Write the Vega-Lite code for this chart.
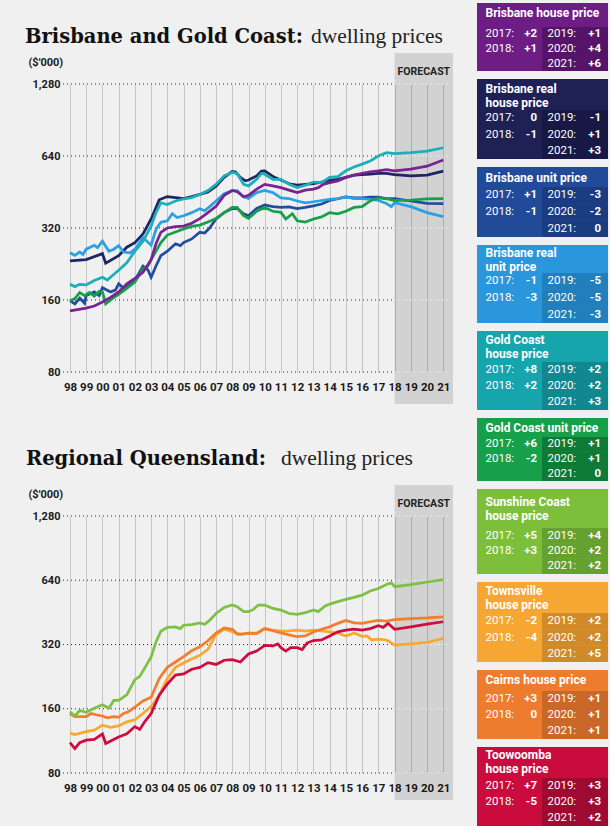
{
"$schema": "https://vega.github.io/schema/vega-lite/v6.json",
"background": "#f0f0f0",
"padding": {"left": 25, "top": 3, "right": 2, "bottom": 0},
"config": {
  "view": {"stroke": null},
  "axis": {"labelFont": "Roboto", "labelFontWeight": "bold", "labelColor": "#1a1a1a", "labelFontSize": 11, "domain": false, "ticks": false},
  "text": {"font": "Roboto", "fontSize": 11.5, "color": "#ffffff", "baseline": "middle"}
},
"datasets": {
  "gridValues": [{"v": 80}, {"v": 160}, {"v": 320}, {"v": 640}, {"v": 1280}],
  "forecast": [{"start": 2018, "end": 2021.6, "label": "FORECAST"}],
  "headings": [
    {"chart": "Brisbane and Gold Coast", "heading": "Brisbane and Gold Coast:", "subheading": "dwelling prices"},
    {"chart": "Regional Queensland", "heading": "Regional Queensland:", "subheading": "dwelling prices"}
  ],
  "brisbane": [
    {"series": "Brisbane real house price",
     "t": [1998,1999,2000,2000.2,2001,2001.5,2002,2002.5,2003,2003.5,2004,2004.5,2005,2005.5,2006,2006.5,2007,2007.5,2008,2008.2,2008.5,2008.8,2009,2009.5,2009.8,2010,2010.3,2010.6,2011,2011.5,2012,2012.5,2013,2013.5,2014,2014.5,2015,2015.5,2016,2016.5,2017,2017.5,2018,2019,2020,2021],
     "v": [233,236,250,228,245,266,278,302,349,420,433,429,425,433,442,453,479,521,551,548,521,504,508,528,553,555,537,521,508,490,484,487,490,498,506,511,521,532,535,537,541,541,535,528,532,553]},
    {"series": "Brisbane unit price",
     "t": [1998,1998.3,1998.6,1998.9,1999,1999.5,1999.8,2000,2000.5,2000.8,2001,2001.3,2001.6,2002,2002.5,2002.8,2003,2003.3,2003.6,2004,2004.5,2004.8,2005,2005.5,2006,2006.3,2006.6,2007,2007.5,2008,2008.3,2008.7,2009,2009.5,2010,2010.5,2011,2011.5,2012,2012.5,2013,2013.5,2014,2014.5,2015,2015.5,2016,2016.5,2017,2017.5,2018,2019,2020,2021],
     "v": [159,154,163,155,167,173,167,180,173,176,187,179,184,193,222,214,199,222,245,256,275,270,278,288,307,305,320,349,371,386,386,367,360,386,400,393,390,392,386,390,396,403,417,424,432,428,428,431,431,425,425,415,406,405]},
    {"series": "Brisbane real unit price",
     "t": [1998,1998.3,1998.6,1998.8,1999,1999.5,1999.7,2000,2000.4,2000.7,2001,2001.3,2001.7,2002,2002.5,2003,2003.3,2003.6,2004,2004.3,2004.6,2005,2005.5,2006,2006.3,2006.7,2007,2007.5,2008,2008.3,2008.7,2009,2009.5,2010,2010.5,2011,2011.5,2012,2012.5,2013,2013.5,2014,2014.5,2015,2015.5,2016,2016.5,2017,2017.5,2017.8,2018,2019,2020,2021],
     "v": [252,246,254,248,261,271,265,282,256,261,270,254,252,261,292,271,316,338,343,367,354,360,371,385,378,398,415,445,459,459,432,425,450,459,450,428,425,415,408,412,417,422,425,432,425,425,422,417,405,393,408,393,371,357]},
    {"series": "Gold Coast unit price",
     "t": [1998,1998.3,1998.6,1998.9,1999.2,1999.5,1999.8,2000,2000.2,2000.6,2001,2001.5,2002,2002.5,2002.8,2003,2003.3,2003.6,2004,2004.5,2005,2005.5,2006,2006.5,2007,2007.5,2008,2008.3,2008.7,2009,2009.5,2010,2010.5,2011,2011.3,2011.7,2012,2012.5,2013,2013.5,2014,2014.5,2015,2015.5,2016,2016.5,2017,2017.5,2018,2019,2020,2021],
     "v": [159,162,172,167,172,166,174,173,154,162,169,179,190,216,222,236,256,278,299,308,317,325,329,339,351,371,390,390,360,351,376,390,376,372,349,367,343,339,349,356,371,367,376,390,393,415,428,424,417,419,424,425]},
    {"series": "Brisbane house price",
     "t": [1998,1999,1999.5,2000,2000.5,2001,2001.5,2002,2002.5,2003,2003.3,2003.6,2004,2004.5,2005,2005.5,2006,2006.5,2007,2007.5,2008,2008.3,2008.7,2009,2009.5,2010,2010.5,2011,2011.5,2012,2012.5,2013,2013.3,2013.6,2014,2014.5,2015,2015.5,2016,2016.5,2017,2017.5,2018,2019,2020,2021],
     "v": [144,148,151,157,164,173,187,197,209,236,275,307,320,324,326,335,350,371,394,438,459,454,432,438,465,487,480,472,461,450,461,465,472,487,495,504,521,532,541,550,555,561,555,564,580,616]},
    {"series": "Gold Coast house price",
     "t": [1998,1998.3,1998.6,1999,1999.5,2000,2000.3,2000.6,2001,2001.5,2002,2002.5,2003,2003.3,2003.6,2004,2004.5,2005,2005.5,2006,2006.5,2007,2007.5,2008,2008.3,2008.7,2009,2009.5,2009.8,2010,2010.5,2011,2011.5,2012,2012.5,2013,2013.5,2014,2014.5,2015,2015.5,2016,2016.5,2017,2017.5,2018,2019,2020,2021],
     "v": [186,182,186,185,193,199,194,202,213,229,256,282,326,371,408,401,415,423,429,442,459,487,528,546,541,487,480,511,541,537,511,511,487,472,483,498,495,521,525,555,576,592,610,640,661,655,661,671,693]}
  ],
  "regional": [
    {"series": "Townsville house price",
     "t": [1998,1998.3,1999,1999.5,2000,2000.5,2001,2001.5,2002,2002.5,2003,2003.5,2004,2004.5,2005,2005.5,2006,2006.5,2007,2007.5,2008,2008.5,2009,2009.5,2010,2010.5,2011,2011.5,2012,2012.5,2013,2013.5,2014,2014.5,2015,2015.5,2016,2016.3,2016.6,2017,2017.5,2017.7,2018,2019,2020,2021],
     "v": [123,121,125,127,134,131,133,139,142,152,164,185,222,250,262,274,285,304,357,377,367,357,362,362,380,374,370,371,374,370,374,371,367,362,351,362,349,351,336,339,336,329,318,322,327,342]},
    {"series": "Toowoomba house price",
     "t": [1998,1998.3,1998.6,1999,1999.5,2000,2000.2,2000.6,2001,2001.5,2002,2002.3,2002.6,2003,2003.5,2004,2004.5,2005,2005.5,2006,2006.5,2007,2007.5,2008,2008.5,2009,2009.5,2010,2010.5,2010.8,2011,2011.3,2011.6,2012,2012.3,2012.6,2013,2013.5,2014,2014.5,2015,2015.5,2016,2016.5,2017,2017.3,2017.6,2018,2019,2020,2021],
     "v": [111,104,111,114,115,122,110,114,118,122,132,128,139,152,185,209,230,233,245,250,263,258,270,272,265,289,298,317,315,322,309,298,309,309,303,325,334,336,351,367,374,378,374,380,392,385,402,377,387,399,409]},
    {"series": "Cairns house price",
     "t": [1998,1998.3,1999,1999.3,1999.6,2000,2000.3,2000.7,2001,2001.3,2001.6,2002,2002.5,2003,2003.5,2004,2004.5,2005,2005.5,2006,2006.5,2007,2007.5,2008,2008.3,2008.6,2009,2009.5,2010,2010.5,2011,2011.5,2012,2012.5,2013,2013.5,2014,2014.5,2015,2015.5,2016,2016.5,2017,2017.5,2018,2019,2020,2021],
     "v": [152,147,147,152,150,148,145,147,146,152,155,163,174,181,222,250,265,281,299,312,333,362,383,377,358,358,362,360,380,371,363,355,348,351,366,377,387,402,415,404,402,409,415,412,418,423,426,431]},
    {"series": "Sunshine Coast house price",
     "t": [1998,1998.3,1998.6,1999,1999.5,2000,2000.4,2000.7,2001,2001.5,2002,2002.3,2002.6,2003,2003.3,2003.6,2004,2004.5,2004.8,2005,2005.5,2006,2006.3,2006.6,2007,2007.5,2008,2008.3,2008.7,2009,2009.3,2009.6,2010,2010.5,2011,2011.5,2012,2012.5,2013,2013.3,2013.7,2014,2014.5,2015,2015.5,2016,2016.5,2017,2017.5,2017.8,2018,2019,2020,2021],
     "v": [155,148,157,154,161,167,161,175,175,186,219,227,248,280,329,369,385,387,380,394,397,404,398,415,447,477,490,481,456,456,467,490,490,472,464,447,443,451,464,456,484,495,508,521,532,545,570,585,611,622,597,611,628,645]}
  ],
  "boxes": [
    {"box": "Brisbane house price", "title": "Brisbane house price", "ly": "2017:", "lv": "+2", "ry": "2019:", "rv": "+1"},
    {"box": "Brisbane house price", "ly": "2018:", "lv": "+1", "ry": "2020:", "rv": "+4"},
    {"box": "Brisbane house price", "ly": "", "lv": "", "ry": "2021:", "rv": "+6"},
    {"box": "Brisbane real house price", "title": "Brisbane real\nhouse price", "ly": "2017:", "lv": "0", "ry": "2019:", "rv": "-1"},
    {"box": "Brisbane real house price", "ly": "2018:", "lv": "-1", "ry": "2020:", "rv": "+1"},
    {"box": "Brisbane real house price", "ly": "", "lv": "", "ry": "2021:", "rv": "+3"},
    {"box": "Brisbane unit price", "title": "Brisbane unit price", "ly": "2017:", "lv": "+1", "ry": "2019:", "rv": "-3"},
    {"box": "Brisbane unit price", "ly": "2018:", "lv": "-1", "ry": "2020:", "rv": "-2"},
    {"box": "Brisbane unit price", "ly": "", "lv": "", "ry": "2021:", "rv": "0"},
    {"box": "Brisbane real unit price", "title": "Brisbane real\nunit price", "ly": "2017:", "lv": "-1", "ry": "2019:", "rv": "-5"},
    {"box": "Brisbane real unit price", "ly": "2018:", "lv": "-3", "ry": "2020:", "rv": "-5"},
    {"box": "Brisbane real unit price", "ly": "", "lv": "", "ry": "2021:", "rv": "-3"},
    {"box": "Gold Coast house price", "title": "Gold Coast\nhouse price", "ly": "2017:", "lv": "+8", "ry": "2019:", "rv": "+2"},
    {"box": "Gold Coast house price", "ly": "2018:", "lv": "+2", "ry": "2020:", "rv": "+2"},
    {"box": "Gold Coast house price", "ly": "", "lv": "", "ry": "2021:", "rv": "+3"},
    {"box": "Gold Coast unit price", "title": "Gold Coast unit price", "ly": "2017:", "lv": "+6", "ry": "2019:", "rv": "+1"},
    {"box": "Gold Coast unit price", "ly": "2018:", "lv": "-2", "ry": "2020:", "rv": "+1"},
    {"box": "Gold Coast unit price", "ly": "", "lv": "", "ry": "2021:", "rv": "0"},
    {"box": "Sunshine Coast house price", "title": "Sunshine Coast\nhouse price", "ly": "2017:", "lv": "+5", "ry": "2019:", "rv": "+4"},
    {"box": "Sunshine Coast house price", "ly": "2018:", "lv": "+3", "ry": "2020:", "rv": "+2"},
    {"box": "Sunshine Coast house price", "ly": "", "lv": "", "ry": "2021:", "rv": "+2"},
    {"box": "Townsville house price", "title": "Townsville\nhouse price", "ly": "2017:", "lv": "-2", "ry": "2019:", "rv": "+2"},
    {"box": "Townsville house price", "ly": "2018:", "lv": "-4", "ry": "2020:", "rv": "+2"},
    {"box": "Townsville house price", "ly": "", "lv": "", "ry": "2021:", "rv": "+5"},
    {"box": "Cairns house price", "title": "Cairns house price", "ly": "2017:", "lv": "+3", "ry": "2019:", "rv": "+1"},
    {"box": "Cairns house price", "ly": "2018:", "lv": "0", "ry": "2020:", "rv": "+1"},
    {"box": "Cairns house price", "ly": "", "lv": "", "ry": "2021:", "rv": "+1"},
    {"box": "Toowoomba house price", "title": "Toowoomba\nhouse price", "ly": "2017:", "lv": "+7", "ry": "2019:", "rv": "+3"},
    {"box": "Toowoomba house price", "ly": "2018:", "lv": "-5", "ry": "2020:", "rv": "+3"},
    {"box": "Toowoomba house price", "ly": "", "lv": "", "ry": "2021:", "rv": "+2"}
  ]
},
"spacing": 24,
"hconcat": [
 {"spacing": 0, "vconcat": [
  {"width": 390, "height": 22, "data": {"values": []}, "mark": "point"},
  {"spacing": 44, "vconcat": [
  {"width": 390, "height": 288,
   "layer": [
    {"data": {"name": "forecast"}, "mark": {"type": "rect", "fill": "#000000", "fillOpacity": 0.12},
     "encoding": {"x": {"field": "start", "type": "quantitative", "scale": {"domain": [1997.57, 2021.6], "nice": false, "zero": false},
            "axis": {"title": null, "values": [1998,1999,2000,2001,2002,2003,2004,2005,2006,2007,2008,2009,2010,2011,2012,2013,2014,2015,2016,2017,2018,2019,2020,2021], "tickCount": 24, "format": "d", "labelExpr": "substring(datum.label, 2)", "grid": true, "gridColor": "#c6c6c6", "labelPadding": 9, "labelFontSize": 11.5, "labelOverlap": false, "labelFlush": false}},
      "x2": {"field": "end"}, "y": {"value": -31}, "y2": {"value": 320}}},
    {"data": {"name": "gridValues"}, "mark": {"type": "rule", "color": "#2a2a2a", "strokeDash": [1, 3], "strokeWidth": 1},
     "encoding": {"x": {"datum": 1997.57, "type": "quantitative"}, "x2": {"datum": 2018}, "y": {"field": "v", "type": "quantitative"}}},
    {"data": {"name": "gridValues"}, "mark": {"type": "rule", "color": "#ffffff", "strokeDash": [1, 3], "strokeWidth": 1},
     "encoding": {"x": {"datum": 2018, "type": "quantitative"}, "x2": {"datum": 2021.45}, "y": {"field": "v", "type": "quantitative"}}},
    {"data": {"name": "brisbane"}, "transform": [{"flatten": ["t", "v"]}],
     "mark": {"type": "line", "strokeWidth": 2.75},
     "encoding": {
      "x": {"field": "t", "type": "quantitative", "scale": {"domain": [1997.57, 2021.6], "nice": false, "zero": false},
            "axis": {"title": null, "values": [1998,1999,2000,2001,2002,2003,2004,2005,2006,2007,2008,2009,2010,2011,2012,2013,2014,2015,2016,2017,2018,2019,2020,2021], "tickCount": 24, "format": "d", "labelExpr": "substring(datum.label, 2)", "grid": true, "gridColor": "#c6c6c6", "labelPadding": 9, "labelFontSize": 11.5, "labelOverlap": false, "labelFlush": false}},
      "y": {"field": "v", "type": "quantitative", "scale": {"type": "log", "domain": [80, 1280], "nice": false},
            "axis": {"title": "($'000)", "values": [80, 160, 320, 640, 1280], "format": ",", "grid": false, "labelPadding": 3, "titleAngle": 0, "titleAlign": "left", "titleBaseline": "alphabetic", "titleX": -35, "titleY": -19, "titleFont": "Roboto", "titleFontSize": 11, "titleFontWeight": "bold", "titleColor": "#1a1a1a"}},
      "color": {"field": "series", "type": "nominal", "legend": null,
        "scale": {"domain": ["Brisbane house price","Brisbane real house price","Brisbane unit price","Brisbane real unit price","Gold Coast house price","Gold Coast unit price","Sunshine Coast house price","Townsville house price","Cairns house price","Toowoomba house price"],
                  "range": ["#7a2291","#1f2464","#234c9e","#2aa1e3","#1aafb9","#15a049","#7cc142","#f9a82e","#f07e2c","#cf0c3f"]}}}},
    {"data": {"name": "forecast"}, "mark": {"type": "text", "align": "left", "baseline": "middle", "dx": 3, "font": "Roboto", "fontSize": 10.5, "fontWeight": "bold", "color": "#222222"},
     "encoding": {"x": {"field": "start", "type": "quantitative"}, "y": {"value": -12}, "text": {"field": "label"}}},
    {"data": {"name": "headings"}, "transform": [{"filter": "datum.chart == 'Brisbane and Gold Coast'"}],
     "mark": {"type": "text", "align": "left", "baseline": "alphabetic", "font": "DejaVu Serif", "fontSize": 19.5, "fontWeight": "bold", "color": "#111111"},
     "encoding": {"x": {"value": -38}, "y": {"value": -41.5}, "text": {"field": "heading"}}},
    {"data": {"name": "headings"}, "transform": [{"filter": "datum.chart == 'Brisbane and Gold Coast'"}],
     "mark": {"type": "text", "align": "left", "baseline": "alphabetic", "font": "Liberation Serif", "fontSize": 21.5, "fontWeight": "normal", "color": "#222222"},
     "encoding": {"x": {"value": 248}, "y": {"value": -41.5}, "text": {"field": "subheading"}}}
   ]},
  {"width": 390, "height": 257,
   "layer": [
    {"data": {"name": "forecast"}, "mark": {"type": "rect", "fill": "#000000", "fillOpacity": 0.12},
     "encoding": {"x": {"field": "start", "type": "quantitative", "scale": {"domain": [1997.57, 2021.6], "nice": false, "zero": false},
            "axis": {"title": null, "values": [1998,1999,2000,2001,2002,2003,2004,2005,2006,2007,2008,2009,2010,2011,2012,2013,2014,2015,2016,2017,2018,2019,2020,2021], "tickCount": 24, "format": "d", "labelExpr": "substring(datum.label, 2)", "grid": true, "gridColor": "#c6c6c6", "labelPadding": 9, "labelFontSize": 11.5, "labelOverlap": false, "labelFlush": false}},
      "x2": {"field": "end"}, "y": {"value": -31}, "y2": {"value": 284}}},
    {"data": {"name": "gridValues"}, "mark": {"type": "rule", "color": "#2a2a2a", "strokeDash": [1, 3], "strokeWidth": 1},
     "encoding": {"x": {"datum": 1997.57, "type": "quantitative"}, "x2": {"datum": 2018}, "y": {"field": "v", "type": "quantitative"}}},
    {"data": {"name": "gridValues"}, "mark": {"type": "rule", "color": "#ffffff", "strokeDash": [1, 3], "strokeWidth": 1},
     "encoding": {"x": {"datum": 2018, "type": "quantitative"}, "x2": {"datum": 2021.45}, "y": {"field": "v", "type": "quantitative"}}},
    {"data": {"name": "regional"}, "transform": [{"flatten": ["t", "v"]}],
     "mark": {"type": "line", "strokeWidth": 2.75},
     "encoding": {
      "x": {"field": "t", "type": "quantitative", "scale": {"domain": [1997.57, 2021.6], "nice": false, "zero": false},
            "axis": {"title": null, "values": [1998,1999,2000,2001,2002,2003,2004,2005,2006,2007,2008,2009,2010,2011,2012,2013,2014,2015,2016,2017,2018,2019,2020,2021], "tickCount": 24, "format": "d", "labelExpr": "substring(datum.label, 2)", "grid": true, "gridColor": "#c6c6c6", "labelPadding": 9, "labelFontSize": 11.5, "labelOverlap": false, "labelFlush": false}},
      "y": {"field": "v", "type": "quantitative", "scale": {"type": "log", "domain": [80, 1280], "nice": false},
            "axis": {"title": "($'000)", "values": [80, 160, 320, 640, 1280], "format": ",", "grid": false, "labelPadding": 3, "titleAngle": 0, "titleAlign": "left", "titleBaseline": "alphabetic", "titleX": -35, "titleY": -19, "titleFont": "Roboto", "titleFontSize": 11, "titleFontWeight": "bold", "titleColor": "#1a1a1a"}},
      "color": {"field": "series", "type": "nominal", "legend": null,
        "scale": {"domain": ["Brisbane house price","Brisbane real house price","Brisbane unit price","Brisbane real unit price","Gold Coast house price","Gold Coast unit price","Sunshine Coast house price","Townsville house price","Cairns house price","Toowoomba house price"],
                  "range": ["#7a2291","#1f2464","#234c9e","#2aa1e3","#1aafb9","#15a049","#7cc142","#f9a82e","#f07e2c","#cf0c3f"]}}}},
    {"data": {"name": "forecast"}, "mark": {"type": "text", "align": "left", "baseline": "middle", "dx": 3, "font": "Roboto", "fontSize": 10.5, "fontWeight": "bold", "color": "#222222"},
     "encoding": {"x": {"field": "start", "type": "quantitative"}, "y": {"value": -12}, "text": {"field": "label"}}},
    {"data": {"name": "headings"}, "transform": [{"filter": "datum.chart == 'Regional Queensland'"}],
     "mark": {"type": "text", "align": "left", "baseline": "alphabetic", "font": "DejaVu Serif", "fontSize": 19.5, "fontWeight": "bold", "color": "#111111"},
     "encoding": {"x": {"value": -37}, "y": {"value": -51}, "text": {"field": "heading"}}},
    {"data": {"name": "headings"}, "transform": [{"filter": "datum.chart == 'Regional Queensland'"}],
     "mark": {"type": "text", "align": "left", "baseline": "alphabetic", "font": "Liberation Serif", "fontSize": 21.5, "fontWeight": "normal", "color": "#222222"},
     "encoding": {"x": {"value": 218}, "y": {"value": -51}, "text": {"field": "subheading"}}}
   ]}
  ]}
 ]},
 {"spacing": 8, "vconcat": [
  {"width": 131, "height": 68, "view": {"fill": "#6d1d84", "stroke": null}, "data": {"name": "boxes"},
   "transform": [{"filter": "datum.box == 'Brisbane house price'"}],
   "encoding": {"y": {"field": "ry", "type": "nominal", "axis": null, "scale": {"domain": ["2019:", "2020:", "2021:"], "range": [24, 68], "paddingInner": 0, "paddingOuter": 0}}},
   "layer": [
    {"mark": {"type": "rect", "color": "#561468"}, "encoding": {"x": {"value": 65}, "x2": {"value": 131}}},
    {"mark": {"type": "text", "align": "left"}, "encoding": {"x": {"value": 8.5}, "text": {"field": "ly"}}},
    {"mark": {"type": "text", "align": "right", "fontWeight": "bold"}, "encoding": {"x": {"value": 60}, "text": {"field": "lv"}}},
    {"mark": {"type": "text", "align": "left"}, "encoding": {"x": {"value": 70.5}, "text": {"field": "ry"}}},
    {"mark": {"type": "text", "align": "right", "fontWeight": "bold"}, "encoding": {"x": {"value": 124}, "text": {"field": "rv"}}},
    {"transform": [{"filter": "datum.ry == '2019:'"}], "mark": {"type": "text", "align": "left", "baseline": "alphabetic", "fontWeight": "bold", "fontSize": 12, "lineBreak": "\n", "lineHeight": 14},
     "encoding": {"x": {"value": 8.5}, "y": {"value": 14}, "text": {"field": "title"}}}
   ]},
  {"width": 131, "height": 80, "view": {"fill": "#1f2155", "stroke": null}, "data": {"name": "boxes"},
   "transform": [{"filter": "datum.box == 'Brisbane real house price'"}],
   "encoding": {"y": {"field": "ry", "type": "nominal", "axis": null, "scale": {"domain": ["2019:", "2020:", "2021:"], "range": [31, 80], "paddingInner": 0, "paddingOuter": 0}}},
   "layer": [
    {"mark": {"type": "rect", "color": "#171944"}, "encoding": {"x": {"value": 65}, "x2": {"value": 131}}},
    {"mark": {"type": "text", "align": "left"}, "encoding": {"x": {"value": 8.5}, "text": {"field": "ly"}}},
    {"mark": {"type": "text", "align": "right", "fontWeight": "bold"}, "encoding": {"x": {"value": 60}, "text": {"field": "lv"}}},
    {"mark": {"type": "text", "align": "left"}, "encoding": {"x": {"value": 70.5}, "text": {"field": "ry"}}},
    {"mark": {"type": "text", "align": "right", "fontWeight": "bold"}, "encoding": {"x": {"value": 124}, "text": {"field": "rv"}}},
    {"transform": [{"filter": "datum.ry == '2019:'"}], "mark": {"type": "text", "align": "left", "baseline": "alphabetic", "fontWeight": "bold", "fontSize": 12, "lineBreak": "\n", "lineHeight": 14},
     "encoding": {"x": {"value": 8.5}, "y": {"value": 14}, "text": {"field": "title"}}}
   ]},
  {"width": 131, "height": 70, "view": {"fill": "#214a99", "stroke": null}, "data": {"name": "boxes"},
   "transform": [{"filter": "datum.box == 'Brisbane unit price'"}],
   "encoding": {"y": {"field": "ry", "type": "nominal", "axis": null, "scale": {"domain": ["2019:", "2020:", "2021:"], "range": [20, 70], "paddingInner": 0, "paddingOuter": 0}}},
   "layer": [
    {"mark": {"type": "rect", "color": "#1b3c80"}, "encoding": {"x": {"value": 65}, "x2": {"value": 131}}},
    {"mark": {"type": "text", "align": "left"}, "encoding": {"x": {"value": 8.5}, "text": {"field": "ly"}}},
    {"mark": {"type": "text", "align": "right", "fontWeight": "bold"}, "encoding": {"x": {"value": 60}, "text": {"field": "lv"}}},
    {"mark": {"type": "text", "align": "left"}, "encoding": {"x": {"value": 70.5}, "text": {"field": "ry"}}},
    {"mark": {"type": "text", "align": "right", "fontWeight": "bold"}, "encoding": {"x": {"value": 124}, "text": {"field": "rv"}}},
    {"transform": [{"filter": "datum.ry == '2019:'"}], "mark": {"type": "text", "align": "left", "baseline": "alphabetic", "fontWeight": "bold", "fontSize": 12, "lineBreak": "\n", "lineHeight": 14},
     "encoding": {"x": {"value": 8.5}, "y": {"value": 14.5}, "text": {"field": "title"}}}
   ]},
  {"width": 131, "height": 78, "view": {"fill": "#2a97dc", "stroke": null}, "data": {"name": "boxes"},
   "transform": [{"filter": "datum.box == 'Brisbane real unit price'"}],
   "encoding": {"y": {"field": "ry", "type": "nominal", "axis": null, "scale": {"domain": ["2019:", "2020:", "2021:"], "range": [28, 78], "paddingInner": 0, "paddingOuter": 0}}},
   "layer": [
    {"mark": {"type": "rect", "color": "#227fbc"}, "encoding": {"x": {"value": 65}, "x2": {"value": 131}}},
    {"mark": {"type": "text", "align": "left"}, "encoding": {"x": {"value": 8.5}, "text": {"field": "ly"}}},
    {"mark": {"type": "text", "align": "right", "fontWeight": "bold"}, "encoding": {"x": {"value": 60}, "text": {"field": "lv"}}},
    {"mark": {"type": "text", "align": "left"}, "encoding": {"x": {"value": 70.5}, "text": {"field": "ry"}}},
    {"mark": {"type": "text", "align": "right", "fontWeight": "bold"}, "encoding": {"x": {"value": 124}, "text": {"field": "rv"}}},
    {"transform": [{"filter": "datum.ry == '2019:'"}], "mark": {"type": "text", "align": "left", "baseline": "alphabetic", "fontWeight": "bold", "fontSize": 12, "lineBreak": "\n", "lineHeight": 14},
     "encoding": {"x": {"value": 8.5}, "y": {"value": 11.5}, "text": {"field": "title"}}}
   ]},
  {"width": 131, "height": 79, "view": {"fill": "#16a4ad", "stroke": null}, "data": {"name": "boxes"},
   "transform": [{"filter": "datum.box == 'Gold Coast house price'"}],
   "encoding": {"y": {"field": "ry", "type": "nominal", "axis": null, "scale": {"domain": ["2019:", "2020:", "2021:"], "range": [31, 79], "paddingInner": 0, "paddingOuter": 0}}},
   "layer": [
    {"mark": {"type": "rect", "color": "#118890"}, "encoding": {"x": {"value": 65}, "x2": {"value": 131}}},
    {"mark": {"type": "text", "align": "left"}, "encoding": {"x": {"value": 8.5}, "text": {"field": "ly"}}},
    {"mark": {"type": "text", "align": "right", "fontWeight": "bold"}, "encoding": {"x": {"value": 60}, "text": {"field": "lv"}}},
    {"mark": {"type": "text", "align": "left"}, "encoding": {"x": {"value": 70.5}, "text": {"field": "ry"}}},
    {"mark": {"type": "text", "align": "right", "fontWeight": "bold"}, "encoding": {"x": {"value": 124}, "text": {"field": "rv"}}},
    {"transform": [{"filter": "datum.ry == '2019:'"}], "mark": {"type": "text", "align": "left", "baseline": "alphabetic", "fontWeight": "bold", "fontSize": 12, "lineBreak": "\n", "lineHeight": 14},
     "encoding": {"x": {"value": 8.5}, "y": {"value": 13}, "text": {"field": "title"}}}
   ]},
  {"width": 131, "height": 63, "view": {"fill": "#17a04a", "stroke": null}, "data": {"name": "boxes"},
   "transform": [{"filter": "datum.box == 'Gold Coast unit price'"}],
   "encoding": {"y": {"field": "ry", "type": "nominal", "axis": null, "scale": {"domain": ["2019:", "2020:", "2021:"], "range": [19, 63], "paddingInner": 0, "paddingOuter": 0}}},
   "layer": [
    {"mark": {"type": "rect", "color": "#0e7a35"}, "encoding": {"x": {"value": 65}, "x2": {"value": 131}}},
    {"mark": {"type": "text", "align": "left"}, "encoding": {"x": {"value": 8.5}, "text": {"field": "ly"}}},
    {"mark": {"type": "text", "align": "right", "fontWeight": "bold"}, "encoding": {"x": {"value": 60}, "text": {"field": "lv"}}},
    {"mark": {"type": "text", "align": "left"}, "encoding": {"x": {"value": 70.5}, "text": {"field": "ry"}}},
    {"mark": {"type": "text", "align": "right", "fontWeight": "bold"}, "encoding": {"x": {"value": 124}, "text": {"field": "rv"}}},
    {"transform": [{"filter": "datum.ry == '2019:'"}], "mark": {"type": "text", "align": "left", "baseline": "alphabetic", "fontWeight": "bold", "fontSize": 12, "lineBreak": "\n", "lineHeight": 14},
     "encoding": {"x": {"value": 8.5}, "y": {"value": 14}, "text": {"field": "title"}}}
   ]},
  {"width": 131, "height": 85, "view": {"fill": "#7dbf3b", "stroke": null}, "data": {"name": "boxes"},
   "transform": [{"filter": "datum.box == 'Sunshine Coast house price'"}],
   "encoding": {"y": {"field": "ry", "type": "nominal", "axis": null, "scale": {"domain": ["2019:", "2020:", "2021:"], "range": [39, 85], "paddingInner": 0, "paddingOuter": 0}}},
   "layer": [
    {"mark": {"type": "rect", "color": "#66a02e"}, "encoding": {"x": {"value": 65}, "x2": {"value": 131}}},
    {"mark": {"type": "text", "align": "left"}, "encoding": {"x": {"value": 8.5}, "text": {"field": "ly"}}},
    {"mark": {"type": "text", "align": "right", "fontWeight": "bold"}, "encoding": {"x": {"value": 60}, "text": {"field": "lv"}}},
    {"mark": {"type": "text", "align": "left"}, "encoding": {"x": {"value": 70.5}, "text": {"field": "ry"}}},
    {"mark": {"type": "text", "align": "right", "fontWeight": "bold"}, "encoding": {"x": {"value": 124}, "text": {"field": "rv"}}},
    {"transform": [{"filter": "datum.ry == '2019:'"}], "mark": {"type": "text", "align": "left", "baseline": "alphabetic", "fontWeight": "bold", "fontSize": 12, "lineBreak": "\n", "lineHeight": 14},
     "encoding": {"x": {"value": 8.5}, "y": {"value": 16.5}, "text": {"field": "title"}}}
   ]},
  {"width": 131, "height": 80, "view": {"fill": "#f5a633", "stroke": null}, "data": {"name": "boxes"},
   "transform": [{"filter": "datum.box == 'Townsville house price'"}],
   "encoding": {"y": {"field": "ry", "type": "nominal", "axis": null, "scale": {"domain": ["2019:", "2020:", "2021:"], "range": [31, 80], "paddingInner": 0, "paddingOuter": 0}}},
   "layer": [
    {"mark": {"type": "rect", "color": "#d08b28"}, "encoding": {"x": {"value": 65}, "x2": {"value": 131}}},
    {"mark": {"type": "text", "align": "left"}, "encoding": {"x": {"value": 8.5}, "text": {"field": "ly"}}},
    {"mark": {"type": "text", "align": "right", "fontWeight": "bold"}, "encoding": {"x": {"value": 60}, "text": {"field": "lv"}}},
    {"mark": {"type": "text", "align": "left"}, "encoding": {"x": {"value": 70.5}, "text": {"field": "ry"}}},
    {"mark": {"type": "text", "align": "right", "fontWeight": "bold"}, "encoding": {"x": {"value": 124}, "text": {"field": "rv"}}},
    {"transform": [{"filter": "datum.ry == '2019:'"}], "mark": {"type": "text", "align": "left", "baseline": "alphabetic", "fontWeight": "bold", "fontSize": 12, "lineBreak": "\n", "lineHeight": 14},
     "encoding": {"x": {"value": 8.5}, "y": {"value": 13}, "text": {"field": "title"}}}
   ]},
  {"width": 131, "height": 69, "view": {"fill": "#ee7c2f", "stroke": null}, "data": {"name": "boxes"},
   "transform": [{"filter": "datum.box == 'Cairns house price'"}],
   "encoding": {"y": {"field": "ry", "type": "nominal", "axis": null, "scale": {"domain": ["2019:", "2020:", "2021:"], "range": [21, 69], "paddingInner": 0, "paddingOuter": 0}}},
   "layer": [
    {"mark": {"type": "rect", "color": "#c96827"}, "encoding": {"x": {"value": 65}, "x2": {"value": 131}}},
    {"mark": {"type": "text", "align": "left"}, "encoding": {"x": {"value": 8.5}, "text": {"field": "ly"}}},
    {"mark": {"type": "text", "align": "right", "fontWeight": "bold"}, "encoding": {"x": {"value": 60}, "text": {"field": "lv"}}},
    {"mark": {"type": "text", "align": "left"}, "encoding": {"x": {"value": 70.5}, "text": {"field": "ry"}}},
    {"mark": {"type": "text", "align": "right", "fontWeight": "bold"}, "encoding": {"x": {"value": 124}, "text": {"field": "rv"}}},
    {"transform": [{"filter": "datum.ry == '2019:'"}], "mark": {"type": "text", "align": "left", "baseline": "alphabetic", "fontWeight": "bold", "fontSize": 12, "lineBreak": "\n", "lineHeight": 14},
     "encoding": {"x": {"value": 8.5}, "y": {"value": 13.5}, "text": {"field": "title"}}}
   ]},
  {"width": 131, "height": 79, "view": {"fill": "#c90c3d", "stroke": null}, "data": {"name": "boxes"},
   "transform": [{"filter": "datum.box == 'Toowoomba house price'"}],
   "encoding": {"y": {"field": "ry", "type": "nominal", "axis": null, "scale": {"domain": ["2019:", "2020:", "2021:"], "range": [31, 79], "paddingInner": 0, "paddingOuter": 0}}},
   "layer": [
    {"mark": {"type": "rect", "color": "#9e0a30"}, "encoding": {"x": {"value": 65}, "x2": {"value": 131}}},
    {"mark": {"type": "text", "align": "left"}, "encoding": {"x": {"value": 8.5}, "text": {"field": "ly"}}},
    {"mark": {"type": "text", "align": "right", "fontWeight": "bold"}, "encoding": {"x": {"value": 60}, "text": {"field": "lv"}}},
    {"mark": {"type": "text", "align": "left"}, "encoding": {"x": {"value": 70.5}, "text": {"field": "ry"}}},
    {"mark": {"type": "text", "align": "right", "fontWeight": "bold"}, "encoding": {"x": {"value": 124}, "text": {"field": "rv"}}},
    {"transform": [{"filter": "datum.ry == '2019:'"}], "mark": {"type": "text", "align": "left", "baseline": "alphabetic", "fontWeight": "bold", "fontSize": 12, "lineBreak": "\n", "lineHeight": 14},
     "encoding": {"x": {"value": 8.5}, "y": {"value": 11.5}, "text": {"field": "title"}}}
   ]}
 ]}
]
}
